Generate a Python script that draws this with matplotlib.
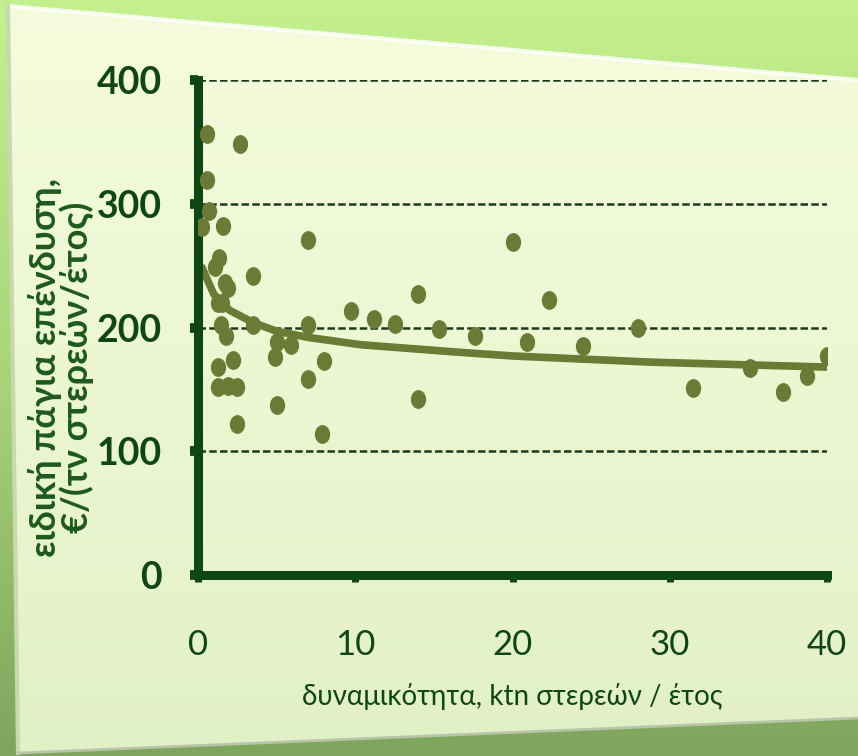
import matplotlib
matplotlib.use('Agg')
import matplotlib.pyplot as plt
from matplotlib.path import Path
from matplotlib.patches import Polygon
from matplotlib.colors import LinearSegmentedColormap
import numpy as np

# data
cap_x = [0.6, 2.7, 0.6, 0.7, 0.25, 1.6, 7.0, 1.35, 1.06, 3.5, 1.7, 1.9, 1.25, 1.5,
         1.45, 3.5, 1.8, 7.0, 5.0, 5.9, 4.9, 8.0, 2.2, 1.3, 1.3, 1.9, 2.5, 7.0,
         5.0, 2.5, 7.9, 9.7, 11.2, 12.5, 14.0, 15.3, 14.0, 17.6, 20.0, 20.9,
         22.3, 24.5, 28.0, 31.5, 35.1, 37.2, 38.7, 40.0]
cost_y = [356, 348, 319, 294, 281, 282, 271, 256, 249, 242, 236, 232, 220, 220,
          202, 202, 193, 202, 188, 186, 176, 173, 174, 168, 152, 153, 152, 158,
          137, 122, 114, 213, 207, 203, 227, 199, 142, 193, 269, 188,
          222, 185, 200, 151, 167, 148, 161, 177]
trend_x = [0.2, 1, 2, 3.5, 5, 7, 10.4, 16.6, 20, 28.8, 40]
trend_y = [250, 227, 214, 204, 197, 192, 186, 180, 177, 172, 168]
x_ticks = [0, 10, 20, 30, 40]
y_ticks = [0, 100, 200, 300, 400]

plt.rcParams['font.family'] = ['Lato', 'Open Sans', 'DejaVu Sans']

dark = '#0f4714'
olive = '#6b7a35'
W, H = 858, 756

fig = plt.figure(figsize=(W / 100, H / 100), dpi=100)

# background: green gradient + light tilted panel
bg = fig.add_axes([0, 0, 1, 1], zorder=-5)
bg.set_xlim(0, W)
bg.set_ylim(H, 0)
bg.axis('off')
grad = np.linspace(0, 1, 256).reshape(-1, 1)
outer = LinearSegmentedColormap.from_list('o', ['#c4f08e', '#a8d47a', '#7ea55c'])
bg.imshow(grad, cmap=outer, extent=[0, W, H, 0], aspect='auto')
corners = [(8, 6), (858, 80), (858, 718), (18, 753)]
panel = Polygon(corners, closed=True, facecolor='none', edgecolor='none')
bg.add_patch(panel)
inner = LinearSegmentedColormap.from_list('i', ['#f5fcdd', '#ecf7d2', '#e2f0c6'])
im = bg.imshow(grad, cmap=inner, extent=[0, W, H, 0], aspect='auto')
im.set_clip_path(panel)
bg.plot([8, 858], [6, 80], color='white', lw=3, alpha=0.8)
bg.plot([8, 18], [6, 753], color='#c9d8ae', lw=3)
bg.plot([18, 858], [753, 718], color='#b9c4a8', lw=2)

ax = fig.add_axes([198 / W, 1 - 575 / H, (827 - 198) / W, (575 - 80) / H])
ax.set_facecolor('none')

for yv in y_ticks[1:]:
    ax.axhline(yv, color='#1c3a1e', lw=1.8, dashes=(3, 1.3), zorder=1)

ell = Path.unit_circle().transformed(matplotlib.transforms.Affine2D().scale(0.8, 1.0))
ax.plot(cap_x, cost_y, linestyle='none', marker=ell, ms=12.5, color=olive, zorder=3)
ax.plot(trend_x, trend_y, color=olive, lw=5.5, solid_capstyle='butt', zorder=2)

ax.set_xlim(0, 40)
ax.set_ylim(0, 400)
ax.set_xticks(x_ticks)
ax.set_yticks(y_ticks)
for s in ['top', 'right']:
    ax.spines[s].set_visible(False)
for s in ['left', 'bottom']:
    ax.spines[s].set_color(dark)
    ax.spines[s].set_linewidth(6.5)
ax.tick_params(axis='y', direction='out', length=6, width=7, color=dark,
               pad=20, labelsize=27, labelcolor=dark)
ax.tick_params(axis='x', direction='out', length=5, width=5, color=dark,
               pad=34, labelsize=25, labelcolor=dark)
for t in ax.get_yticklabels():
    t.set_fontweight('bold')

ax.set_xlabel('δυναμικότητα, ktn στερεών / έτος', fontsize=20, color=dark,
              labelpad=16)
ax.set_ylabel('ειδική πάγια επένδυση,\n€/(τν στερεών/έτος)', fontsize=26,
              fontweight='bold', color='#1d5a1a', linespacing=0.92)
ax.yaxis.set_label_coords(-0.165, 0.42)

plt.savefig('out.png', dpi=100)
